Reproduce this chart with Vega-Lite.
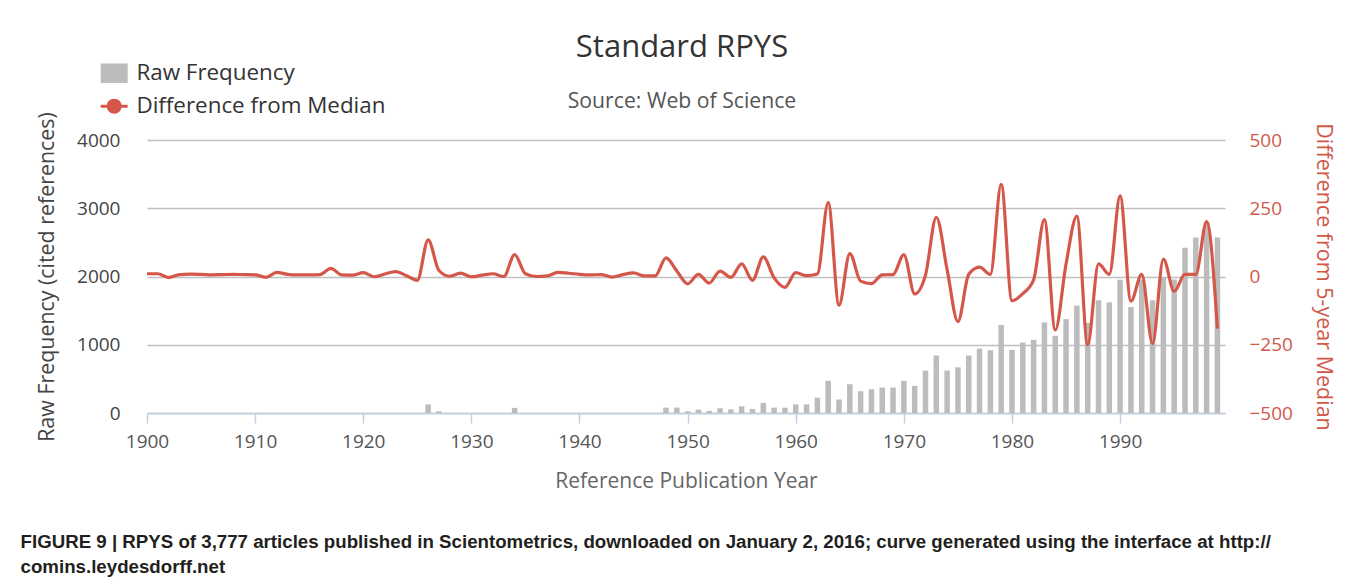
{
  "$schema": "https://vega.github.io/schema/vega-lite/v6.json",
  "background": "white",
  "padding": {"left": 20, "top": 32, "right": 5, "bottom": 5},
  "title": {
    "text": ["FIGURE 9 | RPYS of 3,777 articles published in Scientometrics, downloaded on January 2, 2016; curve generated using the interface at http://", "comins.leydesdorff.net"],
    "orient": "bottom", "anchor": "start", "frame": "bounds",
    "font": "Liberation Sans", "fontSize": 18.7, "fontWeight": "bold", "color": "#231f20",
    "lineHeight": 25, "offset": 42, "dx": -16
  },
  "vconcat": [
    {
      "width": 1078,
      "height": 273,
      "title": {
        "text": "Standard RPYS", "subtitle": "Source: Web of Science",
        "anchor": "middle", "frame": "group", "dx": -4,
        "font": "Open Sans", "fontSize": 31, "fontWeight": "normal", "color": "#333333",
        "subtitleFont": "Open Sans", "subtitleFontSize": 21.2, "subtitleColor": "#555555",
        "subtitlePadding": 27, "offset": -2
      },
      "data": {"values": [
        {"year":1900,"freq":0,"diff":10},{"year":1901,"freq":0,"diff":10},{"year":1902,"freq":0,"diff":-4},{"year":1903,"freq":0,"diff":7},{"year":1904,"freq":0,"diff":9},
        {"year":1905,"freq":0,"diff":8},{"year":1906,"freq":0,"diff":6},{"year":1907,"freq":0,"diff":7},{"year":1908,"freq":0,"diff":8},{"year":1909,"freq":0,"diff":7},
        {"year":1910,"freq":0,"diff":6},{"year":1911,"freq":0,"diff":-3},{"year":1912,"freq":0,"diff":15},{"year":1913,"freq":0,"diff":8},{"year":1914,"freq":0,"diff":6},
        {"year":1915,"freq":0,"diff":6},{"year":1916,"freq":0,"diff":7},{"year":1917,"freq":0,"diff":30},{"year":1918,"freq":0,"diff":6},{"year":1919,"freq":0,"diff":5},
        {"year":1920,"freq":0,"diff":14},{"year":1921,"freq":0,"diff":-1},{"year":1922,"freq":0,"diff":9},{"year":1923,"freq":0,"diff":18},{"year":1924,"freq":0,"diff":3},
        {"year":1925,"freq":0,"diff":-14},{"year":1926,"freq":125,"diff":134},{"year":1927,"freq":25,"diff":22},{"year":1928,"freq":0,"diff":1},{"year":1929,"freq":0,"diff":12},
        {"year":1930,"freq":0,"diff":-1},{"year":1931,"freq":0,"diff":5},{"year":1932,"freq":0,"diff":10},{"year":1933,"freq":0,"diff":0},{"year":1934,"freq":75,"diff":80},
        {"year":1935,"freq":0,"diff":10},{"year":1936,"freq":0,"diff":0},{"year":1937,"freq":0,"diff":2},{"year":1938,"freq":0,"diff":15},{"year":1939,"freq":0,"diff":12},
        {"year":1940,"freq":0,"diff":8},{"year":1941,"freq":0,"diff":6},{"year":1942,"freq":0,"diff":7},{"year":1943,"freq":0,"diff":-2},{"year":1944,"freq":0,"diff":7},
        {"year":1945,"freq":0,"diff":13},{"year":1946,"freq":0,"diff":2},{"year":1947,"freq":0,"diff":2},{"year":1948,"freq":79,"diff":68},{"year":1949,"freq":79,"diff":20},
        {"year":1950,"freq":25,"diff":-27},{"year":1951,"freq":49,"diff":8},{"year":1952,"freq":30,"diff":-24},{"year":1953,"freq":69,"diff":20},{"year":1954,"freq":54,"diff":-3},
        {"year":1955,"freq":98,"diff":46},{"year":1956,"freq":59,"diff":-14},{"year":1957,"freq":147,"diff":72},{"year":1958,"freq":79,"diff":-5},{"year":1959,"freq":77,"diff":-40},
        {"year":1960,"freq":126,"diff":14},{"year":1961,"freq":126,"diff":3},{"year":1962,"freq":224,"diff":9},{"year":1963,"freq":471,"diff":271},{"year":1964,"freq":198,"diff":-105},
        {"year":1965,"freq":422,"diff":84},{"year":1966,"freq":319,"diff":-17},{"year":1967,"freq":349,"diff":-26},{"year":1968,"freq":373,"diff":6},{"year":1969,"freq":373,"diff":7},
        {"year":1970,"freq":471,"diff":80},{"year":1971,"freq":398,"diff":-64},{"year":1972,"freq":622,"diff":5},{"year":1973,"freq":842,"diff":217},{"year":1974,"freq":622,"diff":25},
        {"year":1975,"freq":670,"diff":-165},{"year":1976,"freq":842,"diff":8},{"year":1977,"freq":944,"diff":34},{"year":1978,"freq":919,"diff":8},{"year":1979,"freq":1290,"diff":338},
        {"year":1980,"freq":925,"diff":-89},{"year":1981,"freq":1032,"diff":-63},{"year":1982,"freq":1072,"diff":-12},{"year":1983,"freq":1327,"diff":208},{"year":1984,"freq":1131,"diff":-196},
        {"year":1985,"freq":1376,"diff":46},{"year":1986,"freq":1573,"diff":221},{"year":1987,"freq":1320,"diff":-250},{"year":1988,"freq":1652,"diff":46},{"year":1989,"freq":1622,"diff":8},
        {"year":1990,"freq":1951,"diff":295},{"year":1991,"freq":1553,"diff":-90},{"year":1992,"freq":1955,"diff":8},{"year":1993,"freq":1652,"diff":-246},{"year":1994,"freq":1990,"diff":64},
        {"year":1995,"freq":1955,"diff":-54},{"year":1996,"freq":2420,"diff":8},{"year":1997,"freq":2570,"diff":8},{"year":1998,"freq":2800,"diff":201},{"year":1999,"freq":2570,"diff":-191}
      ]},
      "encoding": {
        "x": {
          "field": "year", "type": "quantitative",
          "scale": {"domain": [1900, 1999.7], "nice": false, "zero": false, "padding": 0},
          "axis": {
            "title": "Reference Publication Year",
            "values": [1900, 1910, 1920, 1930, 1940, 1950, 1960, 1970, 1980, 1990],
            "format": "d", "grid": false, "labelFlush": false, "labelOverlap": false,
            "domainColor": "#C0D0E0", "domainWidth": 1.5,
            "tickColor": "#C0D0E0", "tickWidth": 1.5, "tickSize": 10,
            "labelPadding": 9, "labelFontSize": 19, "labelColor": "#555555",
            "titleFontSize": 21, "titleColor": "#666666", "titlePadding": 19
          }
        }
      },
      "layer": [
        {
          "mark": {"type": "bar", "width": 5.5},
          "encoding": {
            "y": {
              "field": "freq", "type": "quantitative",
              "scale": {"domain": [0, 4000], "nice": false},
              "axis": {
                "title": "Raw Frequency (cited references)",
                "values": [0, 1000, 2000, 3000, 4000], "format": "d",
                "grid": true, "gridColor": "#c0c0c0", "gridWidth": 1.5,
                "domain": false, "ticks": false, "tickSize": 0,
                "labelPadding": 27, "labelFontSize": 19, "labelColor": "#444444",
                "titleFontSize": 21.4, "titleColor": "#444444", "titlePadding": 19
              }
            },
            "color": {
              "datum": "Raw Frequency",
              "scale": {"domain": ["Raw Frequency", "Difference from Median"], "range": ["#bcbcbc", "#d4574a"]},
              "legend": {
                "orient": "none", "legendX": -44, "legendY": -78, "title": null, "direction": "vertical",
                "labelFont": "Open Sans", "labelFontSize": 22.4, "labelColor": "#333333", "labelLimit": 400,
                "symbolSize": 729, "labelOffset": 11, "rowPadding": 9, "padding": 0,
                "encode": {
                  "symbols": {
                    "update": {
                      "shape": {"signal": "datum.value === 'Raw Frequency' ? 'M-1,-0.72H1V0.72H-1Z' : 'M-1,0H1M0.45,0A0.45,0.45,0,1,1,-0.45,0A0.45,0.45,0,1,1,0.45,0Z'"},
                      "fill": {"signal": "datum.value === 'Raw Frequency' ? '#bcbcbc' : '#d4574a'"},
                      "stroke": {"signal": "datum.value === 'Raw Frequency' ? '#bcbcbc' : '#d4574a'"},
                      "strokeWidth": {"signal": "datum.value === 'Raw Frequency' ? 0 : 3"},
                      "opacity": {"value": 1},
                      "fillOpacity": {"value": 1}
                    }
                  }
                }
              }
            }
          }
        },
        {
          "mark": {"type": "line", "interpolate": "monotone", "strokeWidth": 3.2},
          "encoding": {
            "y": {
              "field": "diff", "type": "quantitative",
              "scale": {"domain": [-500, 500], "nice": false, "zero": false},
              "axis": {
                "orient": "right",
                "title": "Difference from 5-year Median",
                "values": [-500, -250, 0, 250, 500],
                "grid": false, "domain": false, "ticks": false, "tickSize": 0,
                "labelPadding": 24, "labelFontSize": 19, "labelColor": "#d0594c",
                "titleFontSize": 21.5, "titleColor": "#d0594c", "titlePadding": 19
              }
            },
            "color": {"datum": "Difference from Median"}
          }
        }
      ],
      "resolve": {"scale": {"y": "independent"}}
    }
  ],
  "config": {
    "view": {"stroke": null},
    "font": "Open Sans",
    "axis": {"labelFont": "Open Sans", "titleFont": "Open Sans", "titleFontWeight": "normal"},
    "legend": {"labelFont": "Open Sans"}
  }
}
